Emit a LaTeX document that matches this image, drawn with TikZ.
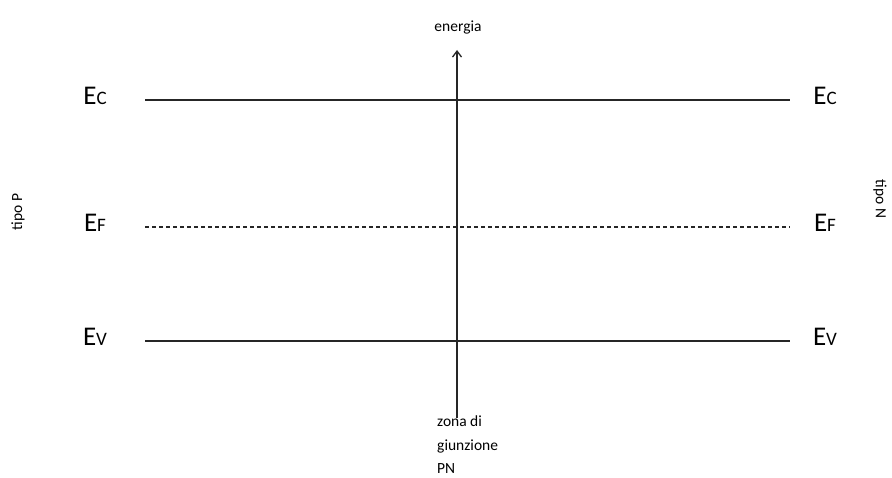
\documentclass[tikz,border=0pt]{standalone}
\usepackage{fontspec}
\setmainfont{Carlito}
\usetikzlibrary{arrows.meta, positioning}
\newcommand{\En}[1]{E{\fontsize{19}{19}\selectfont #1}}

\begin{document}
\begin{tikzpicture}[x=1pt, y=-1pt,
                    lvl/.style={font=\fontsize{27}{27}\selectfont, inner sep=0pt, anchor=base},
                    band/.style={line width=1.1pt, black!85},
                    side/.style={font=\fontsize{15.5}{18}\selectfont, inner sep=0pt},
                    arr/.style={-{Straight Barb[length=6pt, width=9pt]}, line width=1.3pt, black!85}]
        \useasboundingbox (0,0) rectangle (892,478);
        % energy levels
        \foreach \n/\t/\y in {c/C/105, f/F/232, v/V/346} {
            \node[lvl] (\n L) at (95,\y) {\En{\t}};
            \node[lvl] (\n R) at (825,\y) {\En{\t}};
        }
        \coordinate (cA) at (145,100);  \coordinate (cB) at (790,100);
        \coordinate (fA) at (145,227);  \coordinate (fB) at (790,227);
        \coordinate (vA) at (145,341);  \coordinate (vB) at (790,341);
        \draw[band] (cA) -- (cB);
        \draw[band, dashed, dash pattern=on 4pt off 3pt] (fA) -- (fB);
        \draw[band] (vA) -- (vB);
        % energy axis
        \coordinate (base) at (457,418);
        \coordinate (top) at (457,50);
        \draw[arr] (base) -- (top);
        \node[side, anchor=base] (en) at (458,32) {energia};
        \node[side, anchor=north west, align=left, font=\fontsize{15.5}{23.5}\selectfont] (zona) at (437,416) {zona di\\giunzione\\PN};
        % sides
        \node[side, rotate=90] (tP) at (18,212) {tipo P};
        \node[side, rotate=-90] (tN) at (880,199) {tipo N};
    \end{tikzpicture}
\end{document}
